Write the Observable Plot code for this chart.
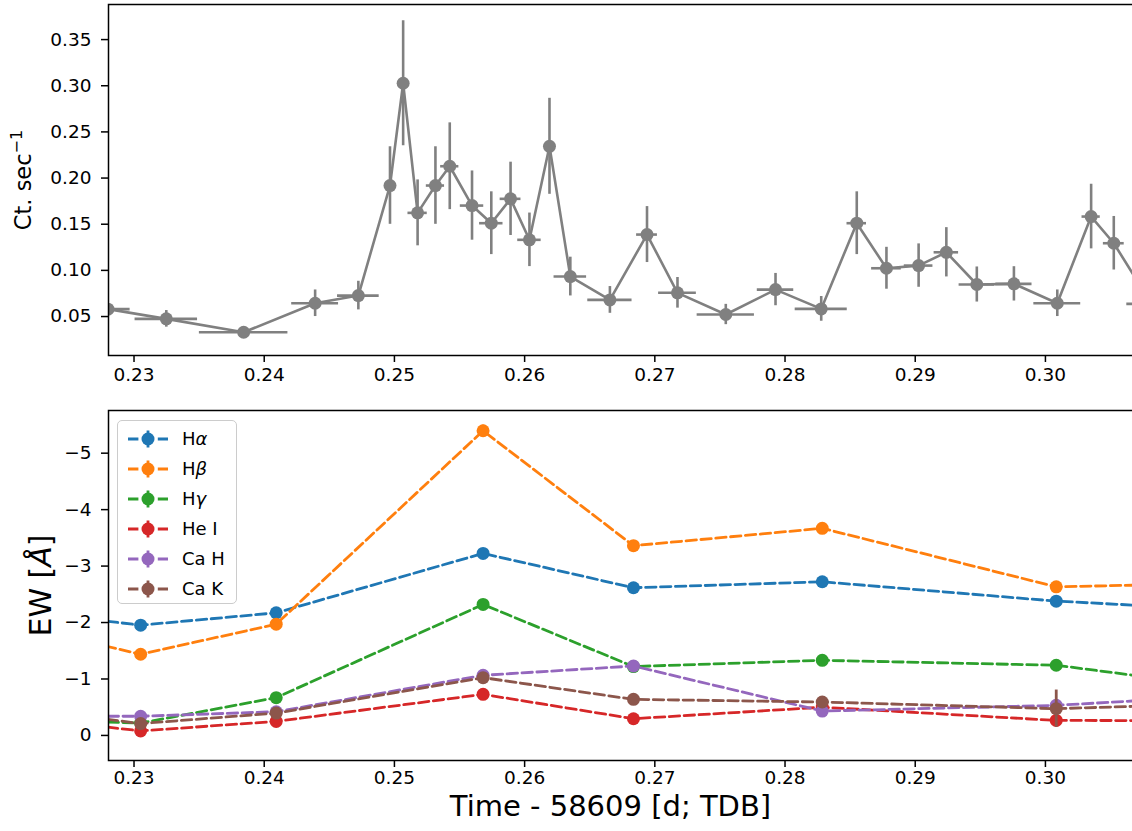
<!DOCTYPE html>
<html><head><meta charset="utf-8">
<script src="https://cdn.jsdelivr.net/npm/d3@7"></script>
<script src="https://cdn.jsdelivr.net/npm/@observablehq/plot@0.6"></script>
<style>
body{margin:0;background:#fff;font-family:"DejaVu Sans",sans-serif;}
#wrap{position:relative;width:1132px;height:831px;overflow:hidden;background:#fff;}
#wrap svg{display:block;max-width:none !important;height:auto;}
#legend{position:absolute;left:117px;top:420px;width:118px;height:182px;border:1.5px solid #ccc;border-radius:5px;background:rgba(255,255,255,0.8);font-family:"DejaVu Sans",sans-serif;font-size:18px;color:#000;}
#legend .row{position:absolute;left:0;height:24px;width:118px;}
#legend .row svg{position:absolute;left:8px;top:0;}
#legend .row span{position:absolute;left:64px;top:0;line-height:24px;white-space:nowrap;}
</style></head><body><div id="wrap"><div id="legend"></div></div>
<script>
// ---------- data: top panel (count rate) ----------
const countTime = [0.2280, 0.23248, 0.23842, 0.24391, 0.24723, 0.24966, 0.25067, 0.25178, 0.25315, 0.25425, 0.25596, 0.25744, 0.25892, 0.26037, 0.26191, 0.26351, 0.26655, 0.2694, 0.27174, 0.27545, 0.27927, 0.28278, 0.28551, 0.28779, 0.29026, 0.29239, 0.29473, 0.29758, 0.30091, 0.30351, 0.30525, 0.30815];
const countTimeErr = [0.0017, 0.0024, 0.0034, 0.0018, 0.0016, 0.0004, 0.0004, 0.00074, 0.0007, 0.0007, 0.0009, 0.0009, 0.0008, 0.0009, 0.0004, 0.00125, 0.0017, 0.0008, 0.00145, 0.0022, 0.0014, 0.002, 0.00075, 0.00114, 0.0011, 0.00094, 0.00136, 0.00139, 0.0018, 0.0007, 0.0008, 0.0019];
const countRate = [0.058, 0.0475, 0.033, 0.0644, 0.0727, 0.1919, 0.3027, 0.1623, 0.1919, 0.2128, 0.1702, 0.1511, 0.1775, 0.1331, 0.2344, 0.0933, 0.068, 0.1388, 0.0757, 0.0522, 0.0792, 0.0583, 0.1511, 0.1023, 0.1052, 0.1196, 0.0847, 0.0854, 0.0644, 0.1583, 0.1294, 0.0637];
const countRateErr = [0.006, 0.009, 0.004, 0.0144, 0.0155, 0.042, 0.0677, 0.0357, 0.042, 0.047, 0.0375, 0.034, 0.0397, 0.029, 0.052, 0.021, 0.0145, 0.0303, 0.0166, 0.011, 0.0175, 0.0134, 0.034, 0.0227, 0.0235, 0.0267, 0.019, 0.0186, 0.0144, 0.035, 0.029, 0.014];

// ---------- data: bottom panel (equivalent widths) ----------
const ewTime = [0.2200, 0.23051, 0.24092, 0.25681, 0.26836, 0.28286, 0.30083, 0.3150];
const seriesNames = ["Hα", "Hβ", "Hγ", "He I", "Ca H", "Ca K"];
const seriesColors = ["#1f77b4", "#ff7f0e", "#2ca02c", "#d62728", "#9467bd", "#8c564b"];
const ewHalpha = [-2.24, -1.953, -2.172, -3.225, -2.616, -2.722, -2.379, -2.21];
const ewHbeta  = [-2.00, -1.438, -1.971, -5.397, -3.361, -3.669, -2.633, -2.70];
const ewHgamma = [-0.29, -0.219, -0.669, -2.320, -1.22, -1.331, -1.243, -0.82];
const ewHeI    = [-0.36, -0.08, -0.249, -0.728, -0.296, -0.50, -0.266, -0.26];
const ewCaH    = [-0.34, -0.34, -0.42, -1.065, -1.23, -0.432, -0.533, -0.72];
const ewCaK    = [-0.52, -0.21, -0.396, -1.024, -0.639, -0.592, -0.474, -0.57];
const errHalpha = [0.06, 0.06, 0.06, 0.08, 0.06, 0.06, 0.06, 0.06];
const errHbeta  = [0.08, 0.08, 0.08, 0.10, 0.08, 0.08, 0.08, 0.08];
const errHgamma = [0.06, 0.06, 0.06, 0.08, 0.06, 0.06, 0.06, 0.06];
const errHeI    = [0.05, 0.05, 0.05, 0.06, 0.05, 0.05, 0.05, 0.05];
const errCaH    = [0.08, 0.08, 0.08, 0.08, 0.08, 0.08, 0.08, 0.08];
const errCaK    = [0.08, 0.08, 0.08, 0.08, 0.08, 0.08, 0.33, 0.08];

const xTicks = [0.23, 0.24, 0.25, 0.26, 0.27, 0.28, 0.29, 0.30];
const countTicks = [0.05, 0.10, 0.15, 0.20, 0.25, 0.30, 0.35];
const ewTicks = [-5, -4, -3, -2, -1, 0];

// ---------- build ----------
const xDomain = [0.22804, 0.30807];
const font = {fontFamily: "DejaVu Sans", fontSize: "18.5px", color: "#000", background: "transparent", overflow: "visible", maxWidth: "none"};

const countData = countTime.map((t, i) => ({
  t, v: countRate[i],
  x1: t - countTimeErr[i], x2: t + countTimeErr[i],
  y1: countRate[i] - countRateErr[i], y2: countRate[i] + countRateErr[i]
}));

const topPlot = Plot.plot({
  width: 1150, height: 400,
  marginLeft: 108, marginRight: 0, marginTop: 4, marginBottom: 45,
  style: font,
  x: {domain: xDomain},
  y: {domain: [0.0078, 0.388]},
  marks: [
    Plot.axisX({ticks: xTicks, tickFormat: d3.format(".2f"), tickSize: 7, tickPadding: 5, strokeWidth: 1.5, label: null}),
    Plot.axisY({ticks: countTicks, tickFormat: d3.format(".2f"), tickSize: 7, tickPadding: 10, strokeWidth: 1.5, label: null}),
    Plot.ruleY(countData, {y: "v", x1: "x1", x2: "x2", stroke: "gray", strokeWidth: 2.6, clip: true}),
    Plot.ruleX(countData, {x: "t", y1: "y1", y2: "y2", stroke: "gray", strokeWidth: 2.6, clip: true}),
    Plot.line(countData, {x: "t", y: "v", stroke: "gray", strokeWidth: 2.6, clip: true}),
    Plot.dot(countData, {x: "t", y: "v", r: 6.5, fill: "gray", stroke: "none", clip: true}),
    Plot.frame({stroke: "black", strokeWidth: 1.5}),
    Plot.text(["Ct. sec⁻¹"], {frameAnchor: "left", dx: -85, rotate: -90, fontSize: 22.5, textAnchor: "middle", lineAnchor: "middle", fill: "black"})
  ]
});

const ewValues = [ewHalpha, ewHbeta, ewHgamma, ewHeI, ewCaH, ewCaK];
const ewErrors = [errHalpha, errHbeta, errHgamma, errHeI, errCaH, errCaK];
const seriesMarks = [];
seriesNames.forEach((name, s) => {
  const rows = ewTime.map((t, i) => ({t, v: ewValues[s][i], y1: ewValues[s][i] - ewErrors[s][i], y2: ewValues[s][i] + ewErrors[s][i]}));
  const c = seriesColors[s];
  seriesMarks.push(
    Plot.line(rows, {x: "t", y: "v", stroke: c, strokeWidth: 2.8, strokeDasharray: "10.4,4.5", clip: true}),
    Plot.ruleX(rows, {x: "t", y1: "y1", y2: "y2", stroke: c, strokeWidth: 2.8, clip: true}),
    Plot.dot(rows, {x: "t", y: "v", r: 6.5, fill: c, stroke: "none", clip: true})
  );
});

const botPlot = Plot.plot({
  width: 1150, height: 431,
  marginLeft: 108, marginRight: 0, marginTop: 10, marginBottom: 71,
  style: font,
  x: {domain: xDomain},
  y: {domain: [0.444, -5.756]},
  marks: [
    Plot.axisX({ticks: xTicks, tickFormat: d3.format(".2f"), tickSize: 7, tickPadding: 3, strokeWidth: 1.5, label: null}),
    Plot.axisY({ticks: ewTicks, tickFormat: d3.format("d"), tickSize: 7, tickPadding: 10, strokeWidth: 1.5, label: null}),
    ...seriesMarks,
    Plot.frame({stroke: "black", strokeWidth: 1.5}),
    Plot.text(["EW [Å]"], {frameAnchor: "left", dx: -67, rotate: -90, fontSize: 30, textAnchor: "middle", lineAnchor: "middle", fill: "black"}),
    Plot.text(["Time - 58609 [d; TDB]"], {frameAnchor: "bottom", dx: -19, dy: 46, fontSize: 29, textAnchor: "middle", lineAnchor: "middle", fill: "black"})
  ]
});

const wrap = document.getElementById("wrap");
const legend = document.getElementById("legend");
wrap.insertBefore(topPlot, legend);
wrap.insertBefore(botPlot, legend);
[topPlot, botPlot].forEach(svg => { svg.style.maxWidth = "none"; svg.style.width = "1150px"; });

const ns = "http://www.w3.org/2000/svg";
// italic Å in the EW label (mathtext style)
botPlot.querySelectorAll("text").forEach(el => {
  if (el.textContent === "EW [Å]") {
    el.textContent = "";
    el.appendChild(document.createTextNode("EW ["));
    const ts = document.createElementNS(ns, "tspan");
    ts.setAttribute("font-style", "italic");
    ts.textContent = "Å";
    el.appendChild(ts);
    el.appendChild(document.createTextNode("]"));
  }
});
// superscript −1 in the count-rate label
topPlot.querySelectorAll("text").forEach(el => {
  if (el.textContent === "Ct. sec⁻¹") {
    el.textContent = "";
    el.appendChild(document.createTextNode("Ct. sec"));
    const ts = document.createElementNS(ns, "tspan");
    ts.setAttribute("font-size", "16px");
    ts.setAttribute("dy", "-9");
    ts.textContent = "−1";
    el.appendChild(ts);
  }
});

// legend (inside the lower axes, upper left)
const legendHtml = [["H", "α"], ["H", "β"], ["H", "γ"], ["He I", ""], ["Ca H", ""], ["Ca K", ""]];
seriesNames.forEach((name, s) => {
  const c = seriesColors[s];
  const row = document.createElement("div");
  row.className = "row";
  row.style.top = (6 + s * 30) + "px";
  const lbl = legendHtml[s];
  row.innerHTML =
    `<svg width="44" height="24"><line x1="2" x2="42" y1="12" y2="12" stroke="${c}" stroke-width="2.8" stroke-dasharray="10.4,4.5"/>` +
    `<line x1="22" x2="22" y1="3.5" y2="20.5" stroke="${c}" stroke-width="2.8"/><circle cx="22" cy="12" r="6.5" fill="${c}"/></svg>` +
    `<span>${lbl[0]}${lbl[1] ? "<i>" + lbl[1] + "</i>" : ""}</span>`;
  legend.appendChild(row);
});
</script>
</body></html>
